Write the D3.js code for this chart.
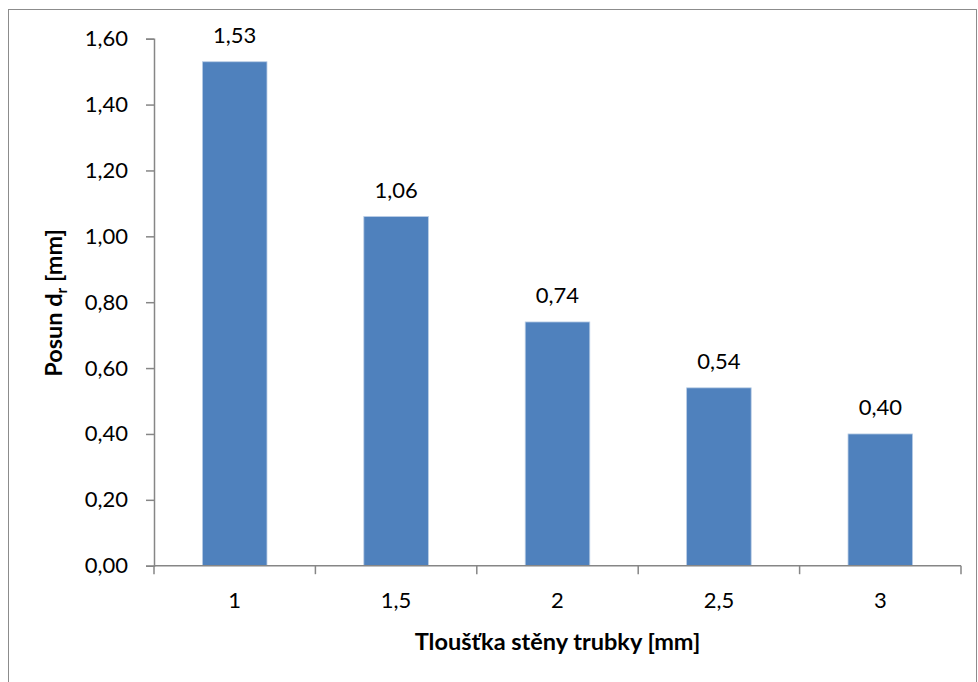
<!DOCTYPE html>
<html><head><meta charset="utf-8">
<script src="https://cdn.jsdelivr.net/npm/d3@7"></script>
<style>body{margin:0;background:#fff}svg{display:block}text{font-family:Lato,"Open Sans",sans-serif}</style>
</head><body>
<svg id="c" width="978" height="682"></svg>
<script>
const categories = ["1","1,5","2","2,5","3"];
const values = [1.53, 1.06, 0.74, 0.54, 0.40];
const yTicks = [0,0.2,0.4,0.6,0.8,1.0,1.2,1.4,1.6];
const xTitle = "Tloušťka stěny trubky [mm]";

const svg = d3.select("#c");
svg.append("rect").attr("x",8.5).attr("y",9.5).attr("width",968).attr("height",700)
  .attr("fill","none").attr("stroke","#8c8c8c").attr("stroke-width",1);

const L=154, R=961, T=38.7, B=565.7;
const x = d3.scaleBand().domain(categories).range([L,R]).paddingInner(0.6).paddingOuter(0.3);
const xb = d3.scaleBand().domain(categories).range([L,R]);
const y = d3.scaleLinear().domain([0,1.6]).range([B,T]);
const fmt = d => d3.format(".2f")(d).replace(".",",");
const FS = 22;

svg.selectAll("rect.bar").data(values).enter().append("rect").attr("class","bar")
  .attr("x",(d,i)=>x(categories[i])).attr("width",x.bandwidth())
  .attr("y",d=>y(d)).attr("height",d=>B-y(d))
  .attr("fill","#4F81BD").attr("stroke","#b9cde5").attr("stroke-width",0.8);

// y axis
const gy = svg.append("g").attr("transform",`translate(${L},0)`)
  .call(d3.axisLeft(y).tickValues(yTicks).tickFormat(fmt).tickSize(8).tickPadding(18));
gy.select(".domain").attr("stroke","#868686").attr("stroke-width",1.5);
gy.selectAll(".tick line").attr("stroke","#868686").attr("stroke-width",1.5);
gy.selectAll(".tick text").attr("font-size",FS).attr("fill","#000").attr("font-family","Lato");

// x axis
const gx = svg.append("g").attr("transform",`translate(0,${B})`);
gx.append("line").attr("x1",L).attr("x2",R).attr("stroke","#868686").attr("stroke-width",1.5);
const bounds = categories.map(c=>xb(c)).concat([R]);
gx.selectAll("line.t").data(bounds).enter().append("line").attr("class","t")
  .attr("x1",d=>d).attr("x2",d=>d).attr("y1",0).attr("y2",8.5)
  .attr("stroke","#868686").attr("stroke-width",1.5);
gx.selectAll("text").data(categories).enter().append("text")
  .attr("x",d=>xb(d)+xb.bandwidth()/2).attr("y",42).attr("text-anchor","middle")
  .attr("font-size",FS).text(d=>d);

// data labels
svg.selectAll("text.lbl").data(values).enter().append("text").attr("class","lbl")
  .attr("x",(d,i)=>x(categories[i])+x.bandwidth()/2).attr("y",d=>y(d)-19)
  .attr("text-anchor","middle").attr("font-size",FS).text(fmt);

// axis titles
svg.append("text").attr("x",(L+R)/2).attr("y",650).attr("text-anchor","middle")
  .attr("font-size",23.5).attr("font-weight","bold").text(xTitle);
const yt = svg.append("text").attr("transform","translate(62,303) rotate(-90)")
  .attr("text-anchor","middle").attr("font-size",23.5).attr("font-weight","bold");
yt.append("tspan").text("Posun d");
yt.append("tspan").attr("font-size",15).attr("dy",5).text("r");
yt.append("tspan").attr("dy",-5).text(" [mm]");
</script>
</body></html>
